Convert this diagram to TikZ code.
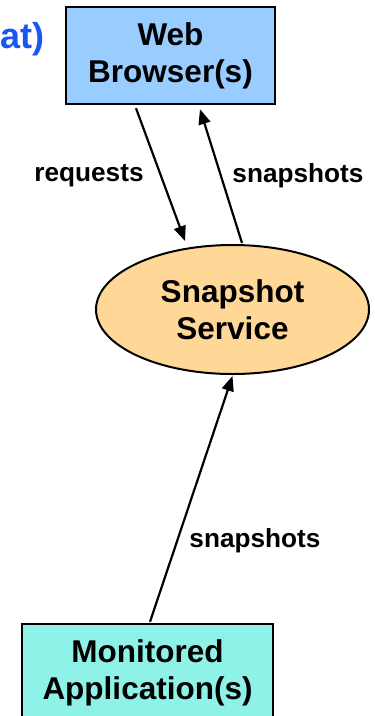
\documentclass[tikz,border=0pt]{standalone}
\usepackage{fontspec}
\setmainfont{Liberation Sans}
\usetikzlibrary{arrows.meta,shapes.geometric}
\definecolor{webfill}{HTML}{99CCFF}
\definecolor{svcfill}{HTML}{FFD898}
\definecolor{appfill}{HTML}{8FF2E8}
\definecolor{titleblue}{HTML}{1A56F0}
\tikzset{
  bigtext/.style={font=\fontsize{31.5}{37}\selectfont\bfseries, align=center},
  labeltext/.style={font=\fontsize{26.2}{30}\selectfont\bfseries, anchor=base},
  boxnode/.style={draw=black, line width=2.4pt, bigtext, inner sep=0pt},
  arr/.style={line width=2.2pt, -{Triangle[length=15pt,width=12pt]}},
}
\begin{document}
\begin{tikzpicture}[x=1pt,y=-1pt]
  \useasboundingbox (0,0) rectangle (375,716);
  % partial heading text at the top left
  \node[anchor=base east, text=titleblue, font=\fontsize{36}{40}\selectfont\bfseries, inner sep=0pt]
    (heading) at (45,48) {at)};
  % components
  \node[boxnode, fill=webfill, minimum width=209pt, minimum height=97pt]
    (web) at (170.5,55.5) {Web\\Browser(s)};
  \node[draw=black, line width=2pt, fill=svcfill, ellipse, bigtext, inner sep=0pt,
        minimum width=273pt, minimum height=129pt]
    (svc) at (232.5,309.5) {Snapshot\\Service};
  \node[boxnode, fill=appfill, minimum width=251pt, minimum height=98pt]
    (app) at (147.5,673) {Monitored\\Application(s)};
  % connectors
  \draw[arr] ([xshift=-34.5pt,yshift=-3pt]web.south) -- ([xshift=-47.5pt,yshift=3pt]svc.north);
  \draw[arr] ([xshift=9.5pt,yshift=1pt]svc.north) -- ([xshift=29.5pt,yshift=-4pt]web.south);
  \draw[arr] ([xshift=2.5pt,yshift=1pt]app.north) -- ([yshift=-1pt]svc.south);
  % connector labels
  \node[labeltext] (lreq) at (89,181) {requests};
  \node[labeltext] (lsnapup) at (298,182) {snapshots};
  \node[labeltext] (lsnaplow) at (255,547) {snapshots};
\end{tikzpicture}
\end{document}
